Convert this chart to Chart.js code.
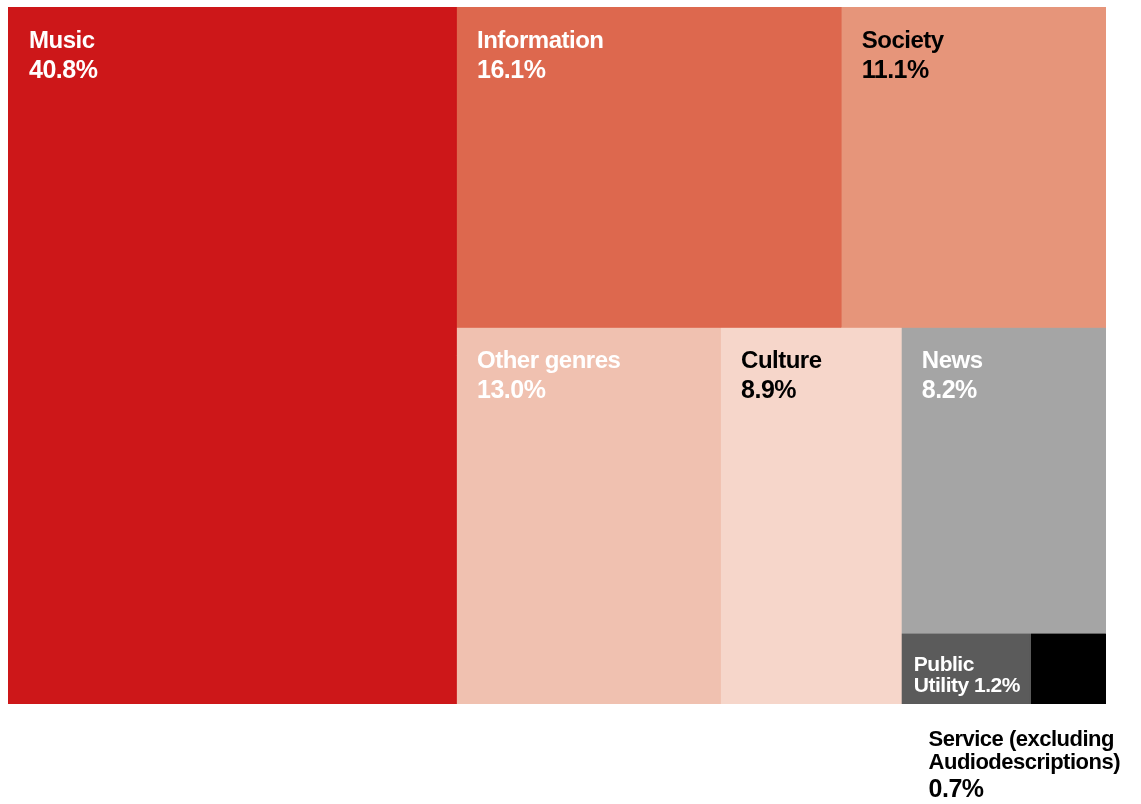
<!DOCTYPE html>
<html>
<head>
<meta charset="utf-8">
<script src="https://cdn.jsdelivr.net/npm/chart.js@4/dist/chart.umd.min.js"></script>
<style>
  html, body { margin: 0; padding: 0; background: #fff; }
  #wrap { width: 1141px; height: 804px; position: relative; }
</style>
</head>
<body>
<div id="wrap"><canvas id="chartTree"></canvas></div>
<script>
// share of listening time by genre, in percent
const categories = ["Music", "Information", "Society", "Other genres", "Culture", "News", "Public Utility", "Service (excluding Audiodescriptions)"];
const shares = [40.8, 16.1, 11.1, 13.0, 8.9, 8.2, 1.2, 0.7];

// how the tiles are nested: columns, then rows, then columns again...
const tree = [0, [[1, 2], [3, 4, [5, [6, 7]]]]];

const colors = ["#cd1719", "#dd684e", "#e6957a", "#f0c1b0", "#f6d6ca", "#a5a5a5", "#5b5b5b", "#000000"];
const textColors = ["#fff", "#fff", "#000", "#fff", "#000", "#fff", "#fff", "#000"];
const labelLines = [["Music"], ["Information"], ["Society"], ["Other genres"], ["Culture"], ["News"], ["Public", "Utility"], ["Service (excluding", "Audiodescriptions)"]];

function total(node) {
  return Array.isArray(node) ? node.reduce((s, n) => s + total(n), 0) : shares[node];
}

// slice-and-dice layout in data units (x: 0..100, y: 0..1)
function slice(node, x0, y0, x1, y1, across, cells) {
  if (!Array.isArray(node)) {
    cells[node] = { x0, y0, x1, y1 };
    return cells;
  }
  const sum = total(node);
  let pos = across ? x0 : y0;
  node.forEach(child => {
    const frac = total(child) / sum;
    if (across) {
      const end = pos + (x1 - x0) * frac;
      slice(child, pos, y0, end, y1, false, cells);
      pos = end;
    } else {
      const end = pos + (y1 - y0) * frac;
      slice(child, x0, pos, x1, end, true, cells);
      pos = end;
    }
  });
  return cells;
}

const cells = slice(tree, 0, 0, 100, 1, true, []);

const datasets = categories.map((name, i) => {
  const c = cells[i];
  return {
    label: name,
    data: [
      { x: c.x0, y: c.y0 },
      { x: c.x1, y: c.y0 },
      { x: c.x1, y: c.y1 },
      { x: c.x0, y: c.y1 },
      { x: c.x0, y: c.y0 },
    ],
    showLine: true,
    fill: "shape",
    backgroundColor: colors[i],
    borderColor: colors[i],
    borderWidth: 1,
    pointRadius: 0,
    pointHoverRadius: 0,
    tension: 0,
  };
});

const FONT = "'Liberation Sans', Arial, sans-serif";

const tileLabels = {
  id: "tileLabels",
  afterDatasetsDraw(chart) {
    const { ctx, scales: { x, y }, chartArea } = chart;
    ctx.save();
    ctx.textAlign = "left";
    ctx.textBaseline = "alphabetic";
    ctx.letterSpacing = "-0.5px";
    categories.forEach((name, i) => {
      const c = cells[i];
      const left = x.getPixelForValue(c.x0);
      const top = y.getPixelForValue(c.y0);
      const bottom = y.getPixelForValue(c.y1);
      const pct = shares[i].toFixed(1) + "%";
      const lines = labelLines[i];
      ctx.fillStyle = textColors[i];

      if (i === 7) {
        // too small to hold its text: label goes under the plot
        ctx.font = "bold 22px " + FONT;
        const w = Math.max(...lines.map(l => ctx.measureText(l).width));
        const lx = chartArea.right + 14 - w;
        ctx.fillText(lines[0], lx, bottom + 42);
        ctx.fillText(lines[1], lx, bottom + 65);
        ctx.font = "bold 25px " + FONT;
        ctx.fillText(pct, lx, bottom + 93);
      } else if (lines.length > 1) {
        ctx.font = "bold 21px " + FONT;
        ctx.fillText(lines[0], left + 13, bottom - 33);
        ctx.fillText(lines[1] + " " + pct, left + 13, bottom - 12);
      } else {
        ctx.font = "bold 24px " + FONT;
        ctx.fillText(lines[0], left + 21, top + 41);
        ctx.font = "bold 25px " + FONT;
        ctx.fillText(pct, left + 21, top + 71);
      }
    });
    ctx.restore();
  },
};

new Chart("chartTree", {
  type: "scatter",
  data: { datasets },
  options: {
    responsive: true,
    maintainAspectRatio: false,
    animation: false,
    events: [],
    layout: {
      padding: { left: 8, top: 7, right: 35, bottom: 100 },
    },
    plugins: {
      legend: { display: false },
      tooltip: { enabled: false },
    },
    scales: {
      x: { type: "linear", min: 0, max: 100, display: false },
      y: { type: "linear", min: 0, max: 1, reverse: true, display: false },
    },
  },
  plugins: [tileLabels],
});
</script>
</body>
</html>
